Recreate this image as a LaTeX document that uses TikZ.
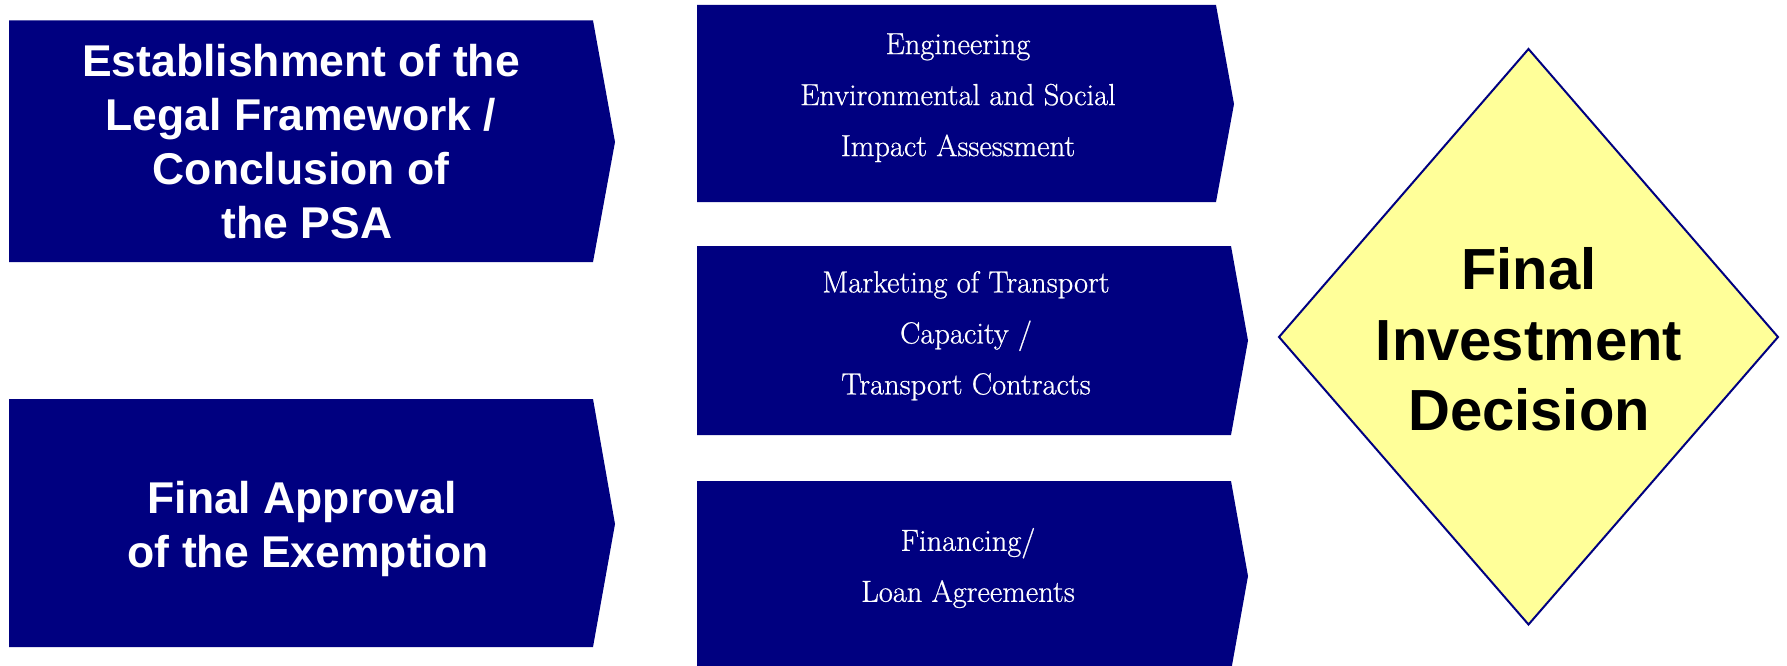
\documentclass[tikz,border=0pt]{standalone}
\usepackage{fontspec}
\newfontfamily\plainbold{Liberation Sans Bold}
\newfontfamily\midserif[FakeBold=0.7]{Latin Modern Roman}
\definecolor{navyfill}{RGB}{0,0,128}
\definecolor{pale}{RGB}{255,255,153}
\tikzset{
  arrowbox/.style={fill=navyfill},
  lefttext/.style={text=white, align=center, font=\plainbold\fontsize{44.5}{54}\selectfont, inner sep=0pt},
  midtext/.style={text=white, align=center, font=\midserif\fontsize{30.5}{51}\selectfont, inner sep=0pt},
  decision/.style={fill=pale, draw=navyfill, line width=2pt, line join=miter},
  dectext/.style={text=black, align=center, font=\plainbold\fontsize{58}{70.5}\selectfont, inner sep=0pt}
}
\begin{document}
\begin{tikzpicture}[x=1pt,y=-1pt]
\useasboundingbox (0,0) rectangle (1787,666);
\clip (0,0) rectangle (1787,666);
% left arrow boxes
\fill[arrowbox] (9,20.5) -- (593,20.5) -- (615,142) -- (593,262) -- (9,262) -- cycle;
\fill[arrowbox] (9,399) -- (593,399) -- (615,524) -- (593,647) -- (9,647) -- cycle;
% middle arrow boxes
\fill[arrowbox] (697,5) -- (1216,5) -- (1234,104) -- (1216,202) -- (697,202) -- cycle;
\fill[arrowbox] (697,246) -- (1231,246) -- (1248,340.5) -- (1231,435) -- (697,435) -- cycle;
\fill[arrowbox] (697,481) -- (1231,481) -- (1248,576) -- (1231,671) -- (697,671) -- cycle;
% decision diamond
\path[decision] (1279,337) -- (1528.5,49) -- (1778,337) -- (1528.5,624.5) -- cycle;
% texts
\node[lefttext] (legal) at (301,142) {Establishment of the\\Legal Framework /\\Conclusion of\\\ the PSA};
\node[lefttext] (approval) at (302,529) {Final Approval\\\ of the Exemption};
\node[midtext] (eng) at (958,97.7) {Engineering\\Environmental and Social\\Impact Assessment};
\node[midtext] (mkt) at (966,335.7) {Marketing of Transport\\Capacity /\\Transport Contracts};
\node[midtext] (fin) at (968,568) {Financing/\\Loan Agreements};
\node[dectext] (fid) at (1529,339.7) {Final\\Investment\\Decision};
\end{tikzpicture}
\end{document}
